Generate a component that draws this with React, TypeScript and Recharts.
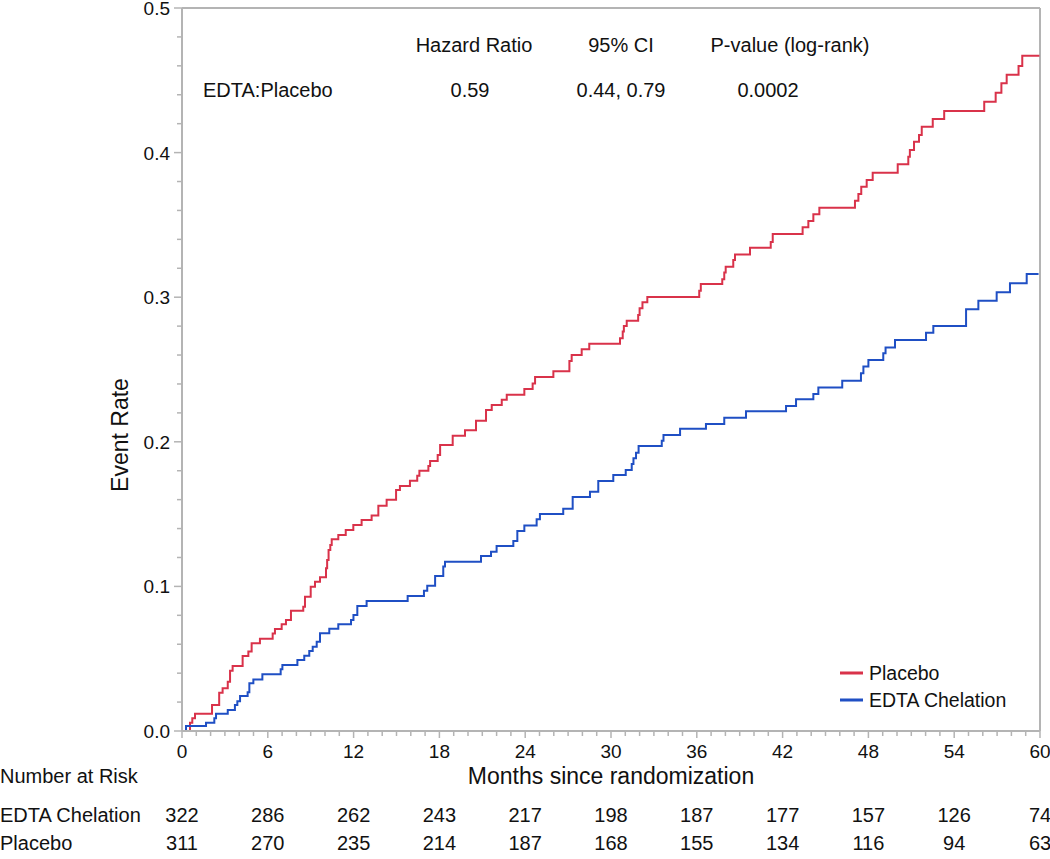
import React from 'react';
import { LineChart, Line, XAxis, YAxis, ReferenceLine } from 'recharts';

// Kaplan-Meier cumulative event curves (months, event rate)
const placeboMonths = [
  0, 0.56, 0.72, 0.91, 2.1, 2.6, 2.84, 3.2, 3.36, 3.54, 4.24, 4.64, 4.87, 5.45, 6.34, 6.5, 6.97, 7.27, 7.62,
  8.48, 8.6, 9.0, 9.3, 9.65, 10.07, 10.15, 10.25, 10.37, 10.47, 10.93, 11.45, 11.98, 12.56, 13.26, 13.73, 14.31,
  14.97, 15.24, 15.94, 16.45, 16.6, 17.23, 17.35, 17.88, 18.05, 18.93, 19.79, 20.56, 21.26, 21.66, 22.36, 22.71,
  23.94, 24.52, 24.69, 25.97, 27.09, 27.25, 27.95, 28.48, 30.63, 30.82, 30.9, 31.1, 31.9, 32.0, 32.2, 32.54,
  36.17, 36.28, 37.78, 37.92, 38.02, 38.55, 38.67, 39.72, 41.17, 41.31, 43.4, 43.8, 44.15, 44.57, 47.06, 47.3,
  47.5, 47.88, 48.3, 50.05, 50.79, 50.9, 51.19, 51.54, 51.73, 52.5, 53.3, 56.1, 56.9, 57.3, 57.67, 58.5, 58.76,
  59.96,
];
const placeboRates = [
  0, 0.0057, 0.0088, 0.012, 0.018, 0.0265, 0.0295, 0.034, 0.0417, 0.045, 0.0519, 0.0549, 0.0606, 0.0638, 0.0675,
  0.0705, 0.0738, 0.0768, 0.0832, 0.086, 0.0929, 0.0998, 0.1033, 0.1063, 0.1125, 0.1183, 0.1252, 0.1286, 0.1326,
  0.1355, 0.139, 0.1425, 0.146, 0.149, 0.1558, 0.16, 0.1667, 0.1694, 0.173, 0.1766, 0.18, 0.1833, 0.1867, 0.1909,
  0.1978, 0.2042, 0.208, 0.2146, 0.222, 0.2255, 0.2291, 0.2326, 0.2365, 0.2404, 0.2448, 0.2488, 0.2559, 0.26,
  0.264, 0.2678, 0.2716, 0.2762, 0.28, 0.2838, 0.2877, 0.2923, 0.2965, 0.3001, 0.3045, 0.3091, 0.3124, 0.317,
  0.3211, 0.3257, 0.3296, 0.3342, 0.3382, 0.3437, 0.3483, 0.3527, 0.3573, 0.3619, 0.3667, 0.3714, 0.3764, 0.381,
  0.3861, 0.3919, 0.3972, 0.4018, 0.4075, 0.4122, 0.4179, 0.4232, 0.4288, 0.4352, 0.4414, 0.4479, 0.4539, 0.4599,
  0.467, 0.467,
];

const edtaMonths = [
  0, 0.28, 1.68, 2.26, 2.38, 3.2, 3.7, 3.87, 4.06, 4.59, 4.71, 4.99, 5.62, 6.9, 7.02, 8.07, 8.55, 8.9, 9.14, 9.42,
  9.65, 10.3, 10.93, 11.82, 11.99, 12.26, 12.91, 15.78, 16.92, 17.15, 17.7, 18.27, 18.39, 20.91, 21.61, 22.0,
  23.17, 23.45, 23.94, 24.8, 25.03, 26.66, 27.32, 28.53, 29.11, 30.16, 31.03, 31.45, 31.57, 31.75, 31.93, 33.55,
  33.67, 34.83, 36.64, 37.92, 39.44, 42.24, 42.94, 44.15, 44.5, 46.17, 47.48, 47.65, 48.0, 49.04, 49.2, 49.86,
  52.03, 52.54, 54.83, 55.69, 56.97, 57.9, 59.07, 59.9,
];
const edtaRates = [
  0, 0.0035, 0.0057, 0.0088, 0.012, 0.0145, 0.018, 0.0205, 0.0242, 0.0268, 0.033, 0.0357, 0.0392, 0.0427, 0.0456,
  0.0491, 0.052, 0.0553, 0.0583, 0.0618, 0.0676, 0.0707, 0.0738, 0.0768, 0.0802, 0.0864, 0.0899, 0.0934, 0.097,
  0.1005, 0.1072, 0.1137, 0.1171, 0.121, 0.124, 0.1279, 0.1314, 0.1383, 0.1422, 0.1464, 0.15, 0.1537, 0.1618,
  0.1655, 0.1729, 0.177, 0.1805, 0.1846, 0.1886, 0.1925, 0.1971, 0.2008, 0.2047, 0.2091, 0.2123, 0.2167, 0.2211,
  0.2248, 0.2294, 0.2331, 0.2376, 0.2422, 0.2474, 0.252, 0.2566, 0.2612, 0.2653, 0.2704, 0.2754, 0.2801, 0.2916,
  0.2976, 0.3034, 0.3096, 0.316, 0.316,
];

const majorMonths = [0, 6, 12, 18, 24, 30, 36, 42, 48, 54, 60];
const edtaAtRisk = [322, 286, 262, 243, 217, 198, 187, 177, 157, 126, 74];
const placeboAtRisk = [311, 270, 235, 214, 187, 168, 155, 134, 116, 94, 63];
const yMajor = [0, 0.1, 0.2, 0.3, 0.4, 0.5];

const xTicks = Array.from({ length: 61 }, (_, i) => i);
const yTicks = Array.from({ length: 26 }, (_, i) => Math.round(i * 2) / 100);

const placeboData = placeboMonths.map((m, i) => ({ month: m, rate: placeboRates[i] }));
const edtaData = edtaMonths.map((m, i) => ({ month: m, rate: edtaRates[i] }));

const RED = '#d9324a';
const BLUE = '#1f4fc4';
const AXIS = '#b4b4b4';
const FONT = '"Liberation Sans", Arial, sans-serif';

const XTick = (props: any) => {
  const { x, y, payload } = props;
  const idx = majorMonths.indexOf(payload.value);
  const major = idx >= 0;
  return (
    <g>
      <line x1={x} y1={y} x2={x} y2={y + (major ? 7 : 5)} stroke={AXIS} strokeWidth={1.5} />
      {major && (
        <g fontFamily={FONT} fill="#111" textAnchor="middle">
          <text x={x} y={y + 27} fontSize={19}>{payload.value}</text>
          <text x={x} y={y + 91} fontSize={20}>{edtaAtRisk[idx]}</text>
          <text x={x} y={y + 119} fontSize={20}>{placeboAtRisk[idx]}</text>
        </g>
      )}
    </g>
  );
};

const YTick = (props: any) => {
  const { x, y, payload } = props;
  const major = yMajor.some((v) => Math.abs(v - payload.value) < 1e-6);
  return (
    <g>
      <line x1={x} y1={y} x2={x - (major ? 8 : 5)} y2={y} stroke={AXIS} strokeWidth={1.5} />
      {major && (
        <text x={x - 12} y={y + 7} textAnchor="end" fontFamily={FONT} fontSize={19} fill="#111">
          {payload.value.toFixed(1)}
        </text>
      )}
    </g>
  );
};

const abs = (left: number, top: number, extra: React.CSSProperties = {}): React.CSSProperties => ({
  position: 'absolute',
  left,
  top,
  whiteSpace: 'nowrap',
  ...extra,
});

export default function App() {
  return (
    <div
      style={{
        position: 'absolute',
        left: 0,
        top: 0,
        width: 1050,
        height: 859,
        background: '#fff',
        fontFamily: FONT,
        color: '#111',
        overflow: 'hidden',
      }}
    >
      <LineChart
        width={1050}
        height={859}
        margin={{ top: 8, right: 10, left: 0, bottom: 0 }}
        style={{ overflow: 'visible' }}
      >
        <XAxis
          dataKey="month"
          type="number"
          domain={[0, 60]}
          ticks={xTicks}
          interval={0}
          height={128}
          stroke={AXIS}
          strokeWidth={2}
          tickLine={false}
          tickSize={0}
          tickMargin={0}
          tick={<XTick />}
          label={{
            value: 'Months since randomization',
            position: 'insideTop',
            offset: 37,
            style: { fontSize: 23, fill: '#111', fontFamily: FONT },
          }}
        />
        <YAxis
          dataKey="rate"
          type="number"
          domain={[0, 0.5]}
          ticks={yTicks}
          interval={0}
          width={182}
          stroke={AXIS}
          strokeWidth={2}
          tickLine={false}
          tickSize={0}
          tickMargin={0}
          tick={<YTick />}
        />
        <ReferenceLine y={0.5} stroke={AXIS} strokeWidth={2} />
        <ReferenceLine x={60} stroke={AXIS} strokeWidth={2} />
        <Line
          data={placeboData}
          dataKey="rate"
          type="stepAfter"
          stroke={RED}
          strokeWidth={2}
          dot={false}
          isAnimationActive={false}
        />
        <Line
          data={edtaData}
          dataKey="rate"
          type="stepAfter"
          stroke={BLUE}
          strokeWidth={2}
          dot={false}
          isAnimationActive={false}
        />
      </LineChart>

      {/* y axis title */}
      <div style={abs(120, 435, { transform: 'translate(-50%, -50%) rotate(-90deg)', fontSize: 23 })}>
        Event Rate
      </div>

      {/* hazard ratio table */}
      <div style={{ fontSize: 20 }}>
        <div style={abs(474, 45, { transform: 'translate(-50%, -50%)' })}>Hazard Ratio</div>
        <div style={abs(621, 45, { transform: 'translate(-50%, -50%)' })}>95% CI</div>
        <div style={abs(790, 45, { transform: 'translate(-50%, -50%)' })}>P-value (log-rank)</div>
        <div style={abs(203, 90, { transform: 'translate(0, -50%)' })}>EDTA:Placebo</div>
        <div style={abs(470, 90, { transform: 'translate(-50%, -50%)' })}>0.59</div>
        <div style={abs(621, 90, { transform: 'translate(-50%, -50%)' })}>0.44, 0.79</div>
        <div style={abs(768, 90, { transform: 'translate(-50%, -50%)' })}>0.0002</div>
      </div>

      {/* legend */}
      <div style={{ fontSize: 19.5 }}>
        <div style={abs(840, 673, { transform: 'translate(0, -50%)', display: 'flex', alignItems: 'center' })}>
          <span style={{ display: 'inline-block', width: 23, height: 3, background: RED, marginRight: 6 }} />
          Placebo
        </div>
        <div style={abs(840, 700, { transform: 'translate(0, -50%)', display: 'flex', alignItems: 'center' })}>
          <span style={{ display: 'inline-block', width: 23, height: 3, background: BLUE, marginRight: 6 }} />
          EDTA Chelation
        </div>
      </div>

      {/* number at risk labels */}
      <div style={{ fontSize: 20 }}>
        <div style={abs(0, 776, { transform: 'translate(0, -50%)' })}>Number at Risk</div>
        <div style={abs(0, 815, { transform: 'translate(0, -50%)' })}>EDTA Chelation</div>
        <div style={abs(0, 843, { transform: 'translate(0, -50%)' })}>Placebo</div>
      </div>
    </div>
  );
}
